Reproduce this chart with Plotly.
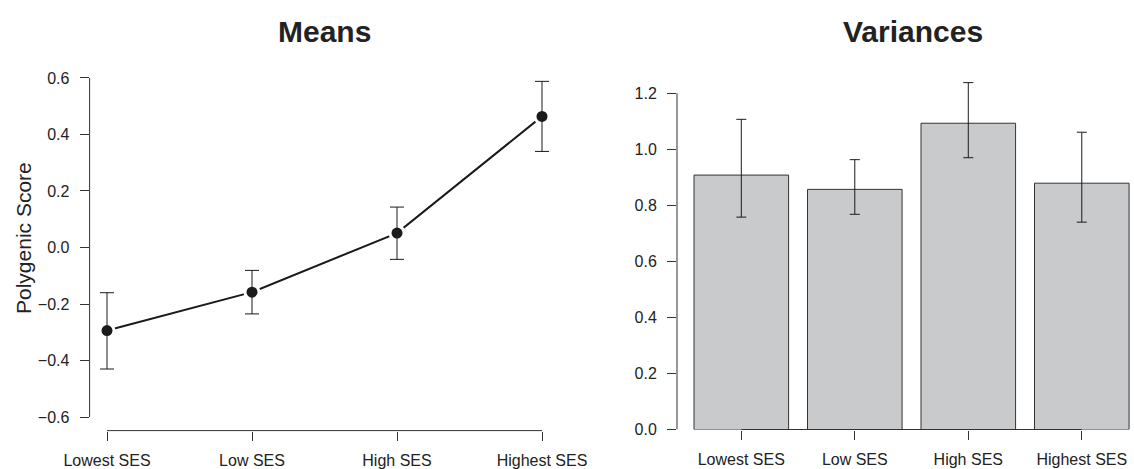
import plotly.graph_objects as go

# ---- data ----
categories = ["Lowest SES", "Low SES", "High SES", "Highest SES"]
mean_score = [-0.294, -0.158, 0.051, 0.464]
mean_lower = [-0.430, -0.235, -0.042, 0.340]
mean_upper = [-0.160, -0.081, 0.143, 0.588]

var_est = [0.908, 0.857, 1.093, 0.879]
var_lower = [0.758, 0.768, 0.970, 0.740]
var_upper = [1.107, 0.963, 1.238, 1.061]

mean_ticks = [-0.6, -0.4, -0.2, 0.0, 0.2, 0.4, 0.6]
var_ticks = [0.0, 0.2, 0.4, 0.6, 0.8, 1.0, 1.2]

W, H = 1134, 469
FONT = "Liberation Sans, Arial, Helvetica, sans-serif"
AX = "#333333"
INK = "#1a1a1a"

def px(x):
    return x / W

def py(y):
    return 1 - y / H

fig = go.Figure()

# Means panel: line, white halo (R type="b" gap), points with CI bars
fig.add_trace(go.Scatter(x=categories, y=mean_score, mode="lines",
                         line=dict(color=INK, width=2), xaxis="x", yaxis="y",
                         showlegend=False, hoverinfo="skip"))
fig.add_trace(go.Scatter(x=categories, y=mean_score, mode="markers",
                         marker=dict(color="white", size=17),
                         xaxis="x", yaxis="y", showlegend=False, hoverinfo="skip"))
fig.add_trace(go.Scatter(
    x=categories, y=mean_score, mode="markers",
    marker=dict(color=INK, size=11),
    error_y=dict(type="data", symmetric=False,
                 array=[u - m for u, m in zip(mean_upper, mean_score)],
                 arrayminus=[m - l for m, l in zip(mean_score, mean_lower)],
                 color=INK, thickness=1, width=7),
    xaxis="x", yaxis="y", showlegend=False))

# Variances panel: bars with asymmetric CI
fig.add_trace(go.Bar(
    x=categories, y=var_est,
    marker=dict(color="#c9cacc", line=dict(color=AX, width=1)),
    error_y=dict(type="data", symmetric=False,
                 array=[u - v for u, v in zip(var_upper, var_est)],
                 arrayminus=[v - l for v, l in zip(var_est, var_lower)],
                 color=INK, thickness=1, width=5),
    xaxis="x2", yaxis="y2", showlegend=False))

tickfont = dict(family=FONT, size=16, color="#222222")
common_x = dict(showgrid=False, zeroline=False, showline=False, ticks="outside",
                ticklen=9, tickwidth=1, tickcolor=AX, tickfont=tickfont,
                ticklabelstandoff=6, fixedrange=True, automargin=False)
common_y = dict(showgrid=False, zeroline=False, showline=False, ticks="outside",
                ticklen=9, tickwidth=1, tickcolor=AX, tickfont=tickfont,
                tickformat=".1f", ticklabelstandoff=7, fixedrange=True, automargin=False)

fig.update_layout(
    template="none",
    width=W, height=H, autosize=False,
    margin=dict(l=0, r=0, t=0, b=0, pad=0),
    paper_bgcolor="white", plot_bgcolor="white",
    bargap=0.1667,
    xaxis=dict(domain=[px(89.6), px(559.4)], range=[-0.12, 3.12],
               type="category", anchor="y", **common_x),
    yaxis=dict(domain=[py(430.6), py(64.4)], range=[-0.648, 0.648],
               tickvals=mean_ticks, anchor="x", **common_y),
    xaxis2=dict(domain=[px(677), 1.0], range=[-0.5665, 3.46],
                type="category", anchor="y2", **common_x),
    yaxis2=dict(domain=[py(429.5), py(64.4)], range=[0, 1.303],
                tickvals=var_ticks, anchor="x2", **common_y),
)

# R-style axis lines spanning only first..last tick
shapes = [
    dict(type="line", xref="x", yref="y domain", x0=0, x1=len(categories) - 1,
         y0=0, y1=0, line=dict(color=AX, width=1)),
    dict(type="line", xref="x domain", yref="y", x0=0, x1=0,
         y0=mean_ticks[0], y1=mean_ticks[-1], line=dict(color=AX, width=1)),
    dict(type="line", xref="x2", yref="y2 domain", x0=0, x1=len(categories) - 1,
         y0=0, y1=0, line=dict(color=AX, width=1)),
    dict(type="line", xref="x2 domain", yref="y2", x0=0, x1=0,
         y0=var_ticks[0], y1=var_ticks[-1], line=dict(color=AX, width=1)),
]
fig.update_layout(shapes=shapes)

fig.add_annotation(text="<b>Means</b>", x=px(324.5), y=py(31), xref="paper", yref="paper",
                   showarrow=False, xanchor="center", yanchor="middle",
                   font=dict(family=FONT, size=30, color="#222222"))
fig.add_annotation(text="<b>Variances</b>", x=px(913), y=py(31), xref="paper", yref="paper",
                   showarrow=False, xanchor="center", yanchor="middle",
                   font=dict(family=FONT, size=30, color="#222222"))
fig.add_annotation(text="Polygenic Score", x=px(23), y=py(238), xref="paper", yref="paper",
                   showarrow=False, xanchor="center", yanchor="middle", textangle=-90,
                   font=dict(family=FONT, size=21, color="#222222"))

fig.write_html(
    "out.html",
    config={"displayModeBar": False},
    post_script="document.body.style.margin='0';document.body.style.overflow='hidden';",
)
